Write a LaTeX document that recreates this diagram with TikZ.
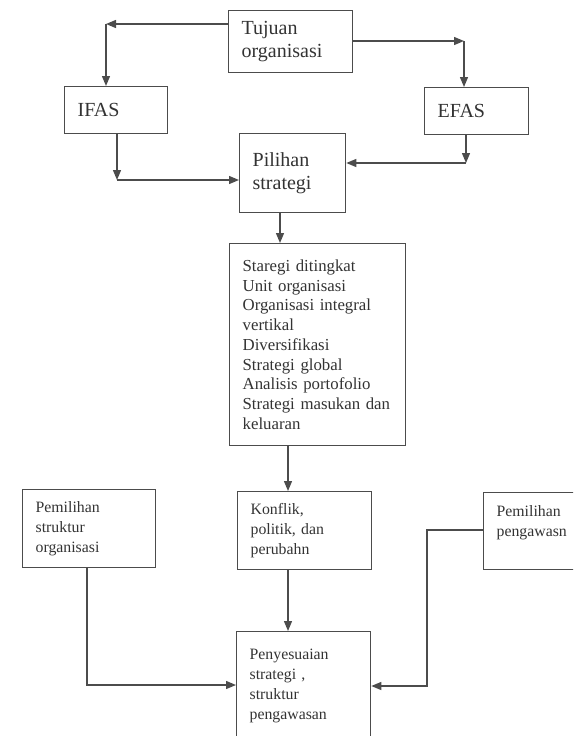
\documentclass[tikz,border=0pt]{standalone}
\usepackage{fontspec}
\setmainfont{Liberation Serif}
\usetikzlibrary{arrows.meta}

\newcommand{\topfont}{\fontsize{20}{23}\selectfont}
\newcommand{\midfont}{\fontsize{16.8}{19.75}\selectfont}
\newcommand{\lowfont}{\fontsize{15.8}{20}\selectfont}

\tikzset{
	flow/.style={-{Triangle[length=10pt,width=8pt]}, line width=1.3pt, draw=black!70},
	plain/.style={line width=1.3pt, draw=black!70}
}

\begin{document}
\begin{tikzpicture}[x=1pt, y=-1pt]
			\useasboundingbox (0,0) rectangle (573,736);
			\clip (0,0) rectangle (573,736);
			\begin{scope}[every node/.style={rectangle,draw=black!70,line width=1.3pt,anchor=north west,align=left,inner xsep=13pt,inner ysep=0pt,text=black!80}]
			\node[font=\topfont, text width=98pt,  minimum height=62pt]  (tujuan)  at (228, 10)  {Tujuan\\organisasi};
			
			\node[font=\topfont, text width=77pt,  minimum height=47pt]  (ifas)    at (64,  86)  {IFAS};
			\node[font=\topfont, text width=78pt,  minimum height=47pt]  (efas)    at (424, 87)  {EFAS};
			
			\node[font=\topfont, text width=80pt,  minimum height=79pt]  (pilihan) at (239, 133) {Pilihan\\strategi};
			
			\node[font=\midfont, text width=150pt, minimum height=202pt] (staregi) at (229, 243) {Staregi ditingkat\\Unit organisasi\\Organisasi integral\\vertikal\\Diversifikasi\\Strategi global\\Analisis portofolio\\Strategi masukan dan\\keluaran};
			
			\node[font=\lowfont, text width=107pt, minimum height=78pt]  (struktur)  at (22,  489) {Pemilihan\\struktur\\organisasi};
			\node[font=\lowfont, text width=108pt, minimum height=78pt]  (konflik)   at (237, 491) {Konflik,\\politik, dan\\perubahn};
			\node[font=\lowfont, text width=104pt, minimum height=77pt]  (pengawasn) at (483, 492) {Pemilihan\\pengawasn\\~};
			
			\node[font=\lowfont, text width=108pt, minimum height=125pt] (penyesuaian) at (236, 631) {Penyesuaian\\strategi ,\\struktur\\pengawasan\\~};
			\end{scope}
			
			% corners of the connectors
			\coordinate (tl) at (106, 24);
			\coordinate (tr) at (464, 41);
			\coordinate (bl) at (117, 180);
			\coordinate (br) at (466, 163);
			\coordinate (sl) at (87, 685);
			\coordinate (sr1) at (427, 530);
			\coordinate (sr2) at (427, 686);
			
			\draw [flow] (tujuan.west |- tl) -- (tl);
			\draw [flow] (tl) -- (ifas.north -| tl);
			\draw [flow] (tujuan.east |- tr) -- (tr);
			\draw [flow] (tr) -- (efas.north -| tr);
			
			\draw [flow] (ifas.south -| bl) -- (bl);
			\draw [flow] (bl) -- (pilihan.west |- bl);
			\draw [flow] (efas.south -| br) -- (br);
			\draw [flow] (br) -- (pilihan.east |- br);
			
			\draw [flow] (pilihan.south -| 280, 0) -- (staregi.north -| 280, 0);
			\draw [flow] (staregi.south -| 288, 0) -- (konflik.north -| 288, 0);
			\draw [flow] (konflik.south -| 288, 0) -- (penyesuaian.north -| 288, 0);
			
			\draw [flow] (struktur.south -| sl) -- (sl) -- (penyesuaian.west |- sl);
			\draw [flow] (pengawasn.west |- sr1) -- (sr1) -- (sr2) -- (penyesuaian.east |- sr2);
\end{tikzpicture}
\end{document}
